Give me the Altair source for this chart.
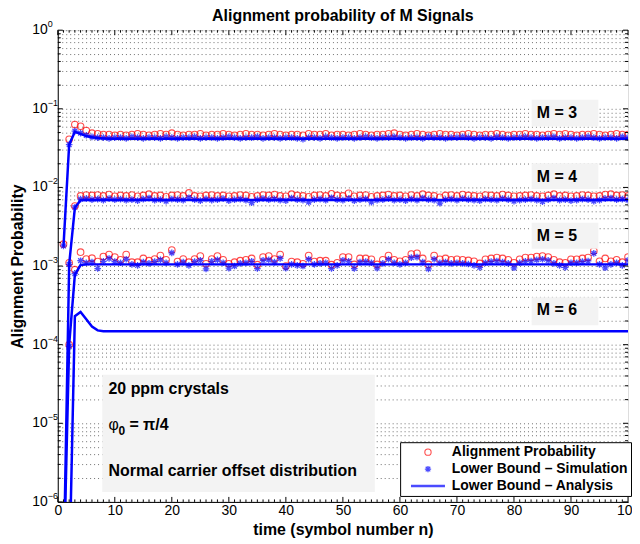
import altair as alt
import pandas as pd

# ---------------- data ----------------
N = list(range(1, 101))

TITLE = "Alignment probability of M Signals"
LAB_AP = "Alignment Probability"
LAB_SIM = "Lower Bound \u2013 Simulation"
LAB_AN = "Lower Bound \u2013 Analysis"

# M = 3
AP3 = [0.0019, 0.041, 0.063, 0.060, 0.053, 0.049, 0.048, 0.047, 0.047, 0.046,
       0.047, 0.046, 0.047, 0.048, 0.047, 0.046, 0.047, 0.048, 0.047, 0.049,
       0.047, 0.046, 0.047, 0.047, 0.048, 0.046, 0.047, 0.047, 0.048, 0.047,
       0.046, 0.047, 0.048, 0.047, 0.047, 0.046, 0.047, 0.048, 0.047, 0.046,
       0.047, 0.047, 0.046, 0.048, 0.047, 0.047, 0.048, 0.046, 0.047, 0.047,
       0.046, 0.047, 0.048, 0.047, 0.046, 0.047, 0.047, 0.048, 0.049, 0.047,
       0.046, 0.047, 0.048, 0.047, 0.046, 0.047, 0.048, 0.047, 0.047, 0.046,
       0.047, 0.048, 0.047, 0.046, 0.047, 0.047, 0.048, 0.047, 0.046, 0.047,
       0.047, 0.048, 0.047, 0.047, 0.046, 0.047, 0.048, 0.047, 0.048, 0.047,
       0.046, 0.047, 0.047, 0.048, 0.047, 0.046, 0.047, 0.048, 0.047, 0.047]
SIM3 = [0.0018, 0.035, 0.052, 0.049, 0.046, 0.044, 0.043, 0.043, 0.042, 0.043,
        0.043, 0.042, 0.044, 0.043, 0.042, 0.043, 0.043, 0.042, 0.044, 0.043,
        0.042, 0.043, 0.043, 0.044, 0.042, 0.043, 0.043, 0.042, 0.043, 0.044,
        0.043, 0.042, 0.043, 0.043, 0.044, 0.042, 0.043, 0.043, 0.042, 0.043,
        0.043, 0.042, 0.041, 0.043, 0.043, 0.042, 0.044, 0.043, 0.042, 0.043,
        0.043, 0.042, 0.043, 0.044, 0.043, 0.042, 0.043, 0.043, 0.044, 0.043,
        0.042, 0.043, 0.043, 0.042, 0.044, 0.043, 0.043, 0.042, 0.043, 0.043,
        0.044, 0.043, 0.042, 0.043, 0.043, 0.042, 0.044, 0.043, 0.042, 0.043,
        0.043, 0.044, 0.043, 0.042, 0.043, 0.043, 0.044, 0.042, 0.043, 0.043,
        0.042, 0.043, 0.044, 0.043, 0.042, 0.043, 0.043, 0.042, 0.044, 0.043]
AN3 = [0.00175, 0.035, 0.051, 0.048, 0.045, 0.0435, 0.0425, 0.042, 0.0415, 0.0415,
       0.0415, 0.0415, 0.0415, 0.0415, 0.0415, 0.0415, 0.0415, 0.0415, 0.0415, 0.0415,
       0.0415, 0.0415, 0.0415, 0.0415, 0.0415, 0.0415, 0.0415, 0.0415, 0.0415, 0.0415,
       0.0415, 0.0415, 0.0415, 0.0415, 0.0415, 0.0415, 0.0415, 0.0415, 0.0415, 0.0415,
       0.0415, 0.0415, 0.0415, 0.0415, 0.0415, 0.0415, 0.0415, 0.0415, 0.0415, 0.0415,
       0.0415, 0.0415, 0.0415, 0.0415, 0.0415, 0.0415, 0.0415, 0.0415, 0.0415, 0.0415,
       0.0415, 0.0415, 0.0415, 0.0415, 0.0415, 0.0415, 0.0415, 0.0415, 0.0415, 0.0415,
       0.0415, 0.0415, 0.0415, 0.0415, 0.0415, 0.0415, 0.0415, 0.0415, 0.0415, 0.0415,
       0.0415, 0.0415, 0.0415, 0.0415, 0.0415, 0.0415, 0.0415, 0.0415, 0.0415, 0.0415,
       0.0415, 0.0415, 0.0415, 0.0415, 0.0415, 0.0415, 0.0415, 0.0415, 0.0415, 0.0415]

# M = 4
AP4 = [1e-7, 0.0011, 0.0058, 0.0078, 0.0080, 0.0079, 0.0080, 0.0078, 0.0081, 0.0077,
       0.0079, 0.0078, 0.0080, 0.0077, 0.0079, 0.0082, 0.0078, 0.0079, 0.0076, 0.0079,
       0.0080, 0.0078, 0.0085, 0.0078, 0.0077, 0.0079, 0.0080, 0.0078, 0.0079, 0.0077,
       0.0078, 0.0080, 0.0079, 0.0076, 0.0078, 0.0080, 0.0079, 0.0081, 0.0078, 0.0077,
       0.0082, 0.0079, 0.0078, 0.0076, 0.0079, 0.0080, 0.0078, 0.0083, 0.0079, 0.0078,
       0.0084, 0.0077, 0.0079, 0.0080, 0.0076, 0.0078, 0.0079, 0.0081, 0.0078, 0.0079,
       0.0077, 0.0080, 0.0078, 0.0082, 0.0079, 0.0078, 0.0075, 0.0079, 0.0080, 0.0078,
       0.0081, 0.0079, 0.0078, 0.0077, 0.0080, 0.0079, 0.0078, 0.0081, 0.0079, 0.0077,
       0.0078, 0.0079, 0.0080, 0.0078, 0.0077, 0.0079, 0.0082, 0.0078, 0.0079, 0.0077,
       0.0078, 0.0080, 0.0079, 0.0077, 0.0078, 0.0081, 0.0082, 0.0079, 0.0080, 0.0078]
SIM4 = [1e-7, 0.00105, 0.0056, 0.0071, 0.0072, 0.0070, 0.0071, 0.0069, 0.0072, 0.0070,
        0.0071, 0.0069, 0.0070, 0.0068, 0.0071, 0.0073, 0.0069, 0.0070, 0.0067, 0.0071,
        0.0070, 0.0069, 0.0074, 0.0070, 0.0068, 0.0071, 0.0069, 0.0070, 0.0072, 0.0068,
        0.0070, 0.0071, 0.0069, 0.0064, 0.0070, 0.0072, 0.0070, 0.0071, 0.0069, 0.0068,
        0.0073, 0.0070, 0.0069, 0.0065, 0.0070, 0.0071, 0.0069, 0.0074, 0.0070, 0.0069,
        0.0072, 0.0068, 0.0070, 0.0071, 0.0065, 0.0069, 0.0070, 0.0072, 0.0069, 0.0070,
        0.0068, 0.0071, 0.0069, 0.0073, 0.0070, 0.0069, 0.0063, 0.0070, 0.0071, 0.0069,
        0.0072, 0.0070, 0.0069, 0.0068, 0.0071, 0.0070, 0.0069, 0.0072, 0.0070, 0.0067,
        0.0069, 0.0070, 0.0071, 0.0069, 0.0066, 0.0070, 0.0073, 0.0069, 0.0070, 0.0068,
        0.0069, 0.0071, 0.0070, 0.0067, 0.0069, 0.0072, 0.0073, 0.0070, 0.0071, 0.0069]
AN4 = [1e-7, 0.00105, 0.0055, 0.00685, 0.0069, 0.0069, 0.0069, 0.0069, 0.0069, 0.0069,
       0.0069, 0.0069, 0.0069, 0.0069, 0.0069, 0.0069, 0.0069, 0.0069, 0.0069, 0.0069,
       0.0069, 0.0069, 0.0069, 0.0069, 0.0069, 0.0069, 0.0069, 0.0069, 0.0069, 0.0069,
       0.0069, 0.0069, 0.0069, 0.0069, 0.0069, 0.0069, 0.0069, 0.0069, 0.0069, 0.0069,
       0.0069, 0.0069, 0.0069, 0.0069, 0.0069, 0.0069, 0.0069, 0.0069, 0.0069, 0.0069,
       0.0069, 0.0069, 0.0069, 0.0069, 0.0069, 0.0069, 0.0069, 0.0069, 0.0069, 0.0069,
       0.0069, 0.0069, 0.0069, 0.0069, 0.0069, 0.0069, 0.0069, 0.0069, 0.0069, 0.0069,
       0.0069, 0.0069, 0.0069, 0.0069, 0.0069, 0.0069, 0.0069, 0.0069, 0.0069, 0.0069,
       0.0069, 0.0069, 0.0069, 0.0069, 0.0069, 0.0069, 0.0069, 0.0069, 0.0069, 0.0069,
       0.0069, 0.0069, 0.0069, 0.0069, 0.0069, 0.0069, 0.0069, 0.0069, 0.0069, 0.0069]

# M = 5
AP5 = [1e-7, 0.00010, 0.00090, 0.00150, 0.00123, 0.00126, 0.00114, 0.00132, 0.00140, 0.00130,
       0.00120, 0.00140, 0.00112, 0.00112, 0.00125, 0.00117, 0.00123, 0.00136, 0.00120, 0.00160,
       0.00114, 0.00123, 0.00112, 0.00123, 0.00134, 0.00107, 0.00123, 0.00134, 0.00120, 0.00107,
       0.00112, 0.00117, 0.00120, 0.00125, 0.00104, 0.00130, 0.00134, 0.00123, 0.00140, 0.00100,
       0.00114, 0.00112, 0.00107, 0.00136, 0.00114, 0.00117, 0.00117, 0.00104, 0.00110, 0.00130,
       0.00130, 0.00105, 0.00125, 0.00125, 0.00122, 0.00105, 0.00120, 0.00136, 0.00120, 0.00115,
       0.00120, 0.00142, 0.00145, 0.00125, 0.00105, 0.00136, 0.00122, 0.00125, 0.00120, 0.00122,
       0.00120, 0.00118, 0.00115, 0.00108, 0.00122, 0.00125, 0.00128, 0.00125, 0.00120, 0.00110,
       0.00122, 0.00128, 0.00128, 0.00132, 0.00134, 0.00130, 0.00120, 0.00112, 0.00110, 0.00122,
       0.00122, 0.00125, 0.00128, 0.00155, 0.00115, 0.00125, 0.00115, 0.00120, 0.00112, 0.00130]
SIM5 = [1e-7, 0.000095, 0.00080, 0.00117, 0.00110, 0.00112, 0.00093, 0.00115, 0.00125, 0.00114,
        0.00110, 0.00122, 0.00105, 0.00102, 0.00112, 0.00108, 0.00114, 0.00120, 0.00110, 0.00147,
        0.00105, 0.00112, 0.00102, 0.00114, 0.00118, 0.00092, 0.00115, 0.00120, 0.00110, 0.00094,
        0.00100, 0.00108, 0.00110, 0.00115, 0.00093, 0.00118, 0.00120, 0.00112, 0.00125, 0.00094,
        0.00105, 0.00102, 0.00100, 0.00122, 0.00105, 0.00108, 0.00110, 0.00093, 0.00102, 0.00118,
        0.00115, 0.00093, 0.00112, 0.00114, 0.00110, 0.00094, 0.00108, 0.00122, 0.00110, 0.00105,
        0.00110, 0.00128, 0.00130, 0.00112, 0.00092, 0.00122, 0.00110, 0.00112, 0.00108, 0.00110,
        0.00108, 0.00106, 0.00102, 0.00096, 0.00110, 0.00114, 0.00116, 0.00112, 0.00108, 0.00095,
        0.00110, 0.00115, 0.00116, 0.00120, 0.00122, 0.00118, 0.00108, 0.00102, 0.00096, 0.00110,
        0.00110, 0.00114, 0.00116, 0.00145, 0.00105, 0.00095, 0.00105, 0.00110, 0.00102, 0.00118]
AN5 = [1e-7, 0.00010, 0.00078, 0.00103, 0.00105, 0.00105, 0.00105, 0.00105, 0.00105, 0.00105,
       0.00105, 0.00105, 0.00105, 0.00105, 0.00105, 0.00105, 0.00105, 0.00105, 0.00105, 0.00105,
       0.00105, 0.00105, 0.00105, 0.00105, 0.00105, 0.00105, 0.00105, 0.00105, 0.00105, 0.00105,
       0.00105, 0.00105, 0.00105, 0.00105, 0.00105, 0.00105, 0.00105, 0.00105, 0.00105, 0.00105,
       0.00105, 0.00105, 0.00105, 0.00105, 0.00105, 0.00105, 0.00105, 0.00105, 0.00105, 0.00105,
       0.00105, 0.00105, 0.00105, 0.00105, 0.00105, 0.00105, 0.00105, 0.00105, 0.00105, 0.00105,
       0.00105, 0.00105, 0.00105, 0.00105, 0.00105, 0.00105, 0.00105, 0.00105, 0.00105, 0.00105,
       0.00105, 0.00105, 0.00105, 0.00105, 0.00105, 0.00105, 0.00105, 0.00105, 0.00105, 0.00105,
       0.00105, 0.00105, 0.00105, 0.00105, 0.00105, 0.00105, 0.00105, 0.00105, 0.00105, 0.00105,
       0.00105, 0.00105, 0.00105, 0.00105, 0.00105, 0.00105, 0.00105, 0.00105, 0.00105, 0.00105]

# M = 6 (analysis only)
AN6 = [1e-7, 1e-7, 0.00023, 0.00026, 0.00021, 0.00017, 0.000152, 0.000148, 0.000148, 0.000148,
       0.000148, 0.000148, 0.000148, 0.000148, 0.000148, 0.000148, 0.000148, 0.000148, 0.000148, 0.000148,
       0.000148, 0.000148, 0.000148, 0.000148, 0.000148, 0.000148, 0.000148, 0.000148, 0.000148, 0.000148,
       0.000148, 0.000148, 0.000148, 0.000148, 0.000148, 0.000148, 0.000148, 0.000148, 0.000148, 0.000148,
       0.000148, 0.000148, 0.000148, 0.000148, 0.000148, 0.000148, 0.000148, 0.000148, 0.000148, 0.000148,
       0.000148, 0.000148, 0.000148, 0.000148, 0.000148, 0.000148, 0.000148, 0.000148, 0.000148, 0.000148,
       0.000148, 0.000148, 0.000148, 0.000148, 0.000148, 0.000148, 0.000148, 0.000148, 0.000148, 0.000148,
       0.000148, 0.000148, 0.000148, 0.000148, 0.000148, 0.000148, 0.000148, 0.000148, 0.000148, 0.000148,
       0.000148, 0.000148, 0.000148, 0.000148, 0.000148, 0.000148, 0.000148, 0.000148, 0.000148, 0.000148,
       0.000148, 0.000148, 0.000148, 0.000148, 0.000148, 0.000148, 0.000148, 0.000148, 0.000148, 0.000148]

# axis ticks
X_MAJOR = [0, 10, 20, 30, 40, 50, 60, 70, 80, 90, 100]
Y_EXP = [0, -1, -2, -3, -4, -5, -6]
Y_EXP_TXT = ["0", "\u22121", "\u22122", "\u22123", "\u22124", "\u22125", "\u22126"]

# annotation labels
M_LABELS = ["M = 3", "M = 4", "M = 5", "M = 6"]
NOTE1 = "20 ppm crystals"
NOTE3 = "Normal carrier offset distribution"

# ---------------- build tables ----------------
rows_c, rows_s, rows_l = [], [], []
for m, ap, sim, an in [(3, AP3, SIM3, AN3), (4, AP4, SIM4, AN4), (5, AP5, SIM5, AN5)]:
    for n, a, s, l in zip(N, ap, sim, an):
        rows_c.append({"n": n, "M": m, "p": a, "series": LAB_AP})
        rows_s.append({"n": n, "M": m, "p": s, "series": LAB_SIM})
        rows_l.append({"n": n, "M": m, "p": l, "series": LAB_AN})
for n, l in zip(N, AN6):
    rows_l.append({"n": n, "M": 6, "p": l, "series": LAB_AN})
df_c = pd.DataFrame(rows_c)
df_s = pd.DataFrame(rows_s)
df_l = pd.DataFrame(rows_l)

y_major = [10.0 ** e for e in Y_EXP]
y_minor = [k * 10.0 ** e for e in range(-6, 0) for k in range(2, 10)]
y_grid = sorted(y_major + y_minor)
x_minor = [v for v in range(1, 100) if v % 10 != 0]

df_ymaj = pd.DataFrame({"p": y_major})
df_ymin = pd.DataFrame({"p": y_minor})
df_xmaj = pd.DataFrame({"n": X_MAJOR})
df_xmin = pd.DataFrame({"n": x_minor})
df_ylab = pd.DataFrame({"p": y_major, "base": ["10"] * len(y_major), "exp": Y_EXP_TXT})
df_title = pd.DataFrame({"t": [TITLE]})

# annotation placement (data coordinates)
df_mbox = pd.DataFrame({
    "n": [83.1] * 4, "n2": [94.8] * 4,
    "p": [0.1305, 0.0203, 0.00355, 0.00040],
    "p2": [0.0596, 0.00953, 0.00166, 0.000177],
    "label": M_LABELS,
})
df_mtext = pd.DataFrame({"n": [84.0] * 4, "p": [0.0877, 0.01351, 0.00243, 0.000274], "label": M_LABELS})
df_nbox = pd.DataFrame({"n": [7.8], "n2": [55.6], "p": [4.14e-5], "p2": [1.34e-6]})
df_notes = pd.DataFrame({"n": [8.9, 8.9], "p": [2.75e-5, 2.47e-6], "label": [NOTE1, NOTE3]})
df_phi = pd.DataFrame({"n": [8.9], "p": [9.5e-6]})

# ---------------- chart ----------------
W, H = 573, 474
FONT = "Liberation Sans"
xscale = alt.Scale(domain=[0, 100], nice=False, zero=False)
yscale = alt.Scale(type="log", domain=[1e-6, 1], nice=False)

x_axis = alt.Axis(
    values=X_MAJOR, grid=False, ticks=False, labelFontSize=14, labelFont=FONT, labelColor="black",
    labelPadding=2, domainColor="black", title="time (symbol number n)", titleFont=FONT,
    titleFontSize=16, titleFontWeight="bold", titleColor="black", titlePadding=4, labelFlush=False)
y_axis = alt.Axis(
    values=y_grid, grid=True, gridColor="#707070", gridDash=[1, 3], gridWidth=1, gridOpacity=1,
    ticks=False, labels=False, domainColor="black", title="Alignment Probability", titleFont=FONT,
    titleFontSize=16, titleFontWeight="bold", titleColor="black", titlePadding=32)

X = alt.X("n:Q", scale=xscale, axis=x_axis)
X2 = alt.X2("n2:Q")
Y = alt.Y("p:Q", scale=yscale, axis=y_axis)
Y2 = alt.Y2("p2:Q")

DOMAIN = [LAB_AP, LAB_SIM, LAB_AN]
ASTER = "M-1,0L1,0M0,-1L0,1M-0.72,-0.72L0.72,0.72M-0.72,0.72L0.72,-0.72"
LINEPATH = "M-5.4,0L5.4,0"

legend = alt.Legend(
    title=None, orient="none", legendX=344, legendY=414,
    fillColor="white", strokeColor="black", padding=3,
    symbolOffset=18, labelOffset=17, labelFont=FONT, labelFontWeight="bold",
    labelFontSize=14, labelColor="black", symbolSize=40,
    rowPadding=3, labelLimit=400, cornerRadius=0,
)
color = alt.Color("series:N", scale=alt.Scale(domain=DOMAIN, range=["#ff0000", "#0000ff", "#0000ff"]), legend=legend)
shape = alt.Shape("series:N", scale=alt.Scale(domain=DOMAIN, range=["circle", ASTER, LINEPATH]), legend=legend)
swidth = alt.StrokeWidth("series:N", scale=alt.Scale(type="ordinal", domain=DOMAIN, range=[1.1, 1.3, 2.5]),
                         legend=legend)

# title (drawn as text above the plot)
title = alt.Chart(df_title).mark_text(align="center", baseline="alphabetic", font=FONT, fontSize=16,
                                      fontWeight="bold", color="black").encode(
    x=alt.value(W / 2), y=alt.value(-9), text="t:N")

# annotation boxes
mbox = alt.Chart(df_mbox).mark_rect(color="#f3f3f3").encode(x=X, x2=X2, y=Y, y2=Y2)
mtext = alt.Chart(df_mtext).mark_text(align="left", baseline="middle", font=FONT, fontSize=16,
                                      fontWeight="bold", color="black").encode(x=X, y=Y, text="label:N")
nbox = alt.Chart(df_nbox).mark_rect(color="#f3f3f3").encode(x=X, x2=X2, y=Y, y2=Y2)
notes = alt.Chart(df_notes).mark_text(align="left", baseline="middle", font=FONT, fontSize=16,
                                      fontWeight="bold", color="black").encode(x=X, y=Y, text="label:N")
phi_a = alt.Chart(df_phi).mark_text(align="left", baseline="middle", font=FONT, fontSize=16,
                                    color="black", text="\u03c6").encode(x=X, y=Y)
phi_b = alt.Chart(df_phi).mark_text(align="left", baseline="middle", font=FONT, fontSize=12,
                                    fontWeight="bold", color="black", text="0", dx=10, dy=6).encode(x=X, y=Y)
phi_c = alt.Chart(df_phi).mark_text(align="left", baseline="middle", font=FONT, fontSize=16,
                                    fontWeight="bold", color="black", text="= \u03c0/4", dx=21).encode(x=X, y=Y)

# data layers
circles = alt.Chart(df_c).mark_point(filled=False, size=44, clip=True).encode(
    x=X, y=Y, color=color, shape=shape, strokeWidth=swidth)
stars = alt.Chart(df_s).mark_point(filled=False, size=44, clip=True).encode(
    x=X, y=Y, color=color, shape=shape, strokeWidth=swidth)
lines = alt.Chart(df_l).mark_line(clip=True).encode(
    x=X, y=Y, color=color, strokeWidth=swidth, detail="M:N")

# inside ticks (box style)
def yticks(df, length):
    left = alt.Chart(df).mark_rule(color="black", strokeWidth=1).encode(
        y=Y, x=alt.value(0), x2=alt.value(length))
    right = alt.Chart(df).mark_rule(color="black", strokeWidth=1).encode(
        y=Y, x=alt.value(W - length), x2=alt.value(W))
    return [left, right]

def xticks(df, length):
    bottom = alt.Chart(df).mark_rule(color="black", strokeWidth=1).encode(
        x=X, y=alt.value(H - length), y2=alt.value(H))
    top = alt.Chart(df).mark_rule(color="black", strokeWidth=1).encode(
        x=X, y=alt.value(0), y2=alt.value(length))
    return [bottom, top]

ylab_base = alt.Chart(df_ylab).mark_text(align="right", baseline="middle", font=FONT, fontSize=14,
                                         color="black").encode(y=Y, x=alt.value(-10), text="base:N")
ylab_exp = alt.Chart(df_ylab).mark_text(align="left", baseline="middle", font=FONT, fontSize=9,
                                        color="black", dy=-6).encode(y=Y, x=alt.value(-10), text="exp:N")

layers = [circles, mbox, nbox, mtext, notes, phi_a, phi_b, phi_c, stars, lines]
layers += yticks(df_ymaj, 5) + yticks(df_ymin, 3) + xticks(df_xmaj, 5) + xticks(df_xmin, 2.5)
layers += [ylab_base, ylab_exp, title]

chart = alt.layer(*layers).properties(
    width=W, height=H,
    autosize=alt.AutoSizeParams(type="none"),
    padding={"left": 50, "top": 21, "right": 4, "bottom": 40},
).configure_view(stroke="black", strokeWidth=1).configure(background="white")

chart.save("out.html", embed_options={"renderer": "svg", "actions": False})
